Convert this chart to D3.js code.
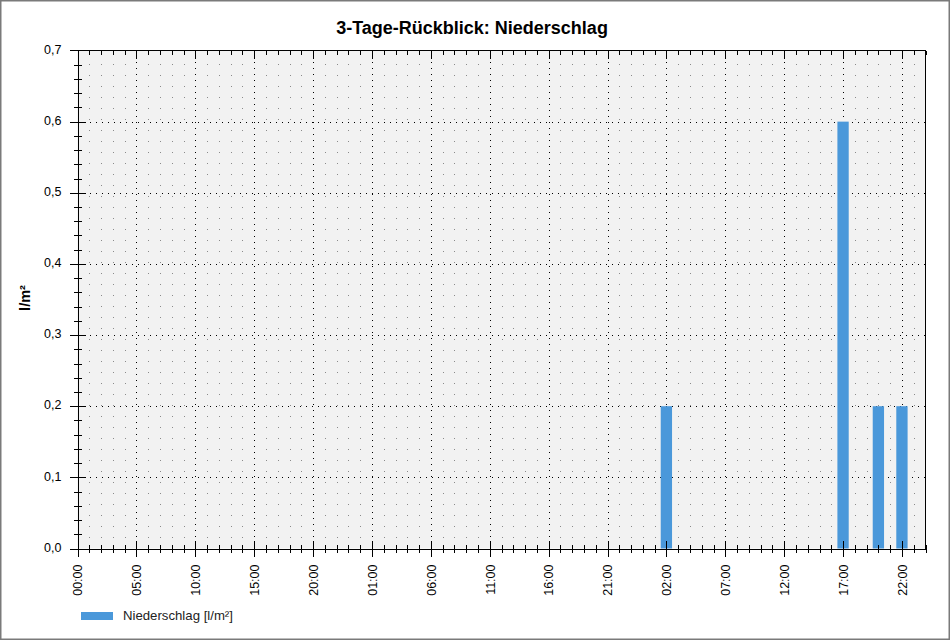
<!DOCTYPE html>
<html>
<head>
<meta charset="utf-8">
<script src="https://cdn.jsdelivr.net/npm/d3@7"></script>
<style>
  html, body { margin: 0; padding: 0; background: #fff; }
  svg { display: block; font-family: "Liberation Sans", Arial, sans-serif; }
</style>
</head>
<body>
<svg id="chart" width="950" height="640"></svg>
<script>
// ---- data ----
const chartTitle = "3-Tage-Rückblick: Niederschlag";
const yLabel = "l/m²";
const seriesName = "Niederschlag [l/m²]";
const xTickLabels = ["00:00","05:00","10:00","15:00","20:00","01:00","06:00","11:00","16:00","21:00","02:00","07:00","12:00","17:00","22:00"];
const xTickHours = [0,5,10,15,20,25,30,35,40,45,50,55,60,65,70];
const totalHours = 72;
// hours since start of the 3-day window with precipitation, and amounts
const rainHours = [50, 65, 68, 70];
const rainValues = [0.2, 0.6, 0.2, 0.2];
const yTickValues = [0, 0.1, 0.2, 0.3, 0.4, 0.5, 0.6, 0.7];
const yMax = 0.7;

// ---- layout ----
const svg = d3.select("#chart");
const L = 77.5, R = 925.5, T = 50.5, B = 548.5;
const x = d3.scaleLinear().domain([0, totalHours]).range([L, R]);
const y = d3.scaleLinear().domain([0, yMax]).range([B, T]);
const barColor = "#4a98da";

// outer border
svg.append("rect").attr("x", 0.75).attr("y", 0.75).attr("width", 948.5).attr("height", 638.5)
  .attr("fill", "#fff").attr("stroke", "#7a7a7a").attr("stroke-width", 1.5);

// title
svg.append("text").attr("x", 472).attr("y", 34).attr("text-anchor", "middle")
  .attr("font-size", 18).attr("font-weight", "bold").attr("fill", "#000").text(chartTitle);

// plot background
svg.append("rect").attr("x", L).attr("y", T).attr("width", R - L).attr("height", B - T).attr("fill", "#f2f2f2");

const hoursAll = d3.range(0, totalHours + 1);
const majorSet = new Set(xTickHours);

// minor vertical grid (every hour)
svg.append("g").selectAll("line").data(hoursAll.filter(h => !majorSet.has(h) && h > 0 && h < totalHours))
  .join("line")
  .attr("x1", d => Math.round(x(d)) + 0.5).attr("x2", d => Math.round(x(d)) + 0.5)
  .attr("y1", B).attr("y2", T)
  .attr("stroke", "#8a8a8a").attr("stroke-width", 1).attr("stroke-dasharray", "1,10")
  .attr("shape-rendering", "crispEdges");

// major vertical grid
svg.append("g").selectAll("line").data(xTickHours.filter(h => h > 0))
  .join("line")
  .attr("x1", d => Math.round(x(d)) + 0.5).attr("x2", d => Math.round(x(d)) + 0.5)
  .attr("y1", B).attr("y2", T)
  .attr("stroke", "#000").attr("stroke-width", 1).attr("stroke-dasharray", "1,5")
  .attr("shape-rendering", "crispEdges");

// major horizontal grid
svg.append("g").selectAll("line").data(yTickValues.filter(v => v > 0 && v < yMax))
  .join("line")
  .attr("x1", L).attr("x2", R)
  .attr("y1", d => Math.round(y(d)) + 0.5).attr("y2", d => Math.round(y(d)) + 0.5)
  .attr("stroke", "#000").attr("stroke-width", 1).attr("stroke-dasharray", "1,5")
  .attr("shape-rendering", "crispEdges");

// bars
svg.append("g").selectAll("rect").data(rainHours.map((h, i) => ({h, v: rainValues[i]})))
  .join("rect")
  .attr("x", d => x(d.h - 0.48)).attr("width", d => x(d.h + 0.48) - x(d.h - 0.48))
  .attr("y", d => y(d.v)).attr("height", d => y(0) - y(d.v))
  .attr("fill", barColor);

// frame: top and right
svg.append("line").attr("x1", L).attr("x2", R).attr("y1", T).attr("y2", T)
  .attr("stroke", "#000").attr("shape-rendering", "crispEdges");
svg.append("line").attr("x1", R).attr("x2", R).attr("y1", T).attr("y2", B)
  .attr("stroke", "#000").attr("shape-rendering", "crispEdges");

// top ticks (pointing inward)
svg.append("g").selectAll("line").data(hoursAll)
  .join("line")
  .attr("x1", d => Math.round(x(d)) + 0.5).attr("x2", d => Math.round(x(d)) + 0.5)
  .attr("y1", T).attr("y2", d => T + (majorSet.has(d) ? 8 : 4))
  .attr("stroke", "#000").attr("shape-rendering", "crispEdges");

// x axis
const xAxis = d3.axisBottom(x).tickValues(xTickHours)
  .tickFormat((d, i) => xTickLabels[i]).tickSize(0).tickPadding(0);
const gx = svg.append("g").attr("transform", `translate(0,${B})`).call(xAxis);
gx.select(".domain").attr("stroke", "#000").attr("shape-rendering", "crispEdges");
gx.selectAll(".tick text")
  .attr("font-family", "Liberation Sans, Arial, sans-serif")
  .attr("font-size", 12.5).attr("fill", "#000")
  .attr("transform", "rotate(-90)")
  .attr("text-anchor", "end")
  .attr("x", -16).attr("y", 0).attr("dy", "0.35em");
// x ticks
svg.append("g").selectAll("line").data(hoursAll)
  .join("line")
  .attr("x1", d => Math.round(x(d)) + 0.5).attr("x2", d => Math.round(x(d)) + 0.5)
  .attr("y1", d => B - (majorSet.has(d) ? 8 : 4)).attr("y2", d => B + (majorSet.has(d) ? 8 : 4))
  .attr("stroke", "#000").attr("stroke-width", 1.2).attr("shape-rendering", "crispEdges");

// y axis
const yAxis = d3.axisLeft(y).tickValues(yTickValues)
  .tickFormat(d => d3.format(".1f")(d).replace(".", ",")).tickSize(0).tickPadding(0);
const gy = svg.append("g").attr("transform", `translate(${L},0)`).call(yAxis);
gy.select(".domain").attr("stroke", "#000").attr("shape-rendering", "crispEdges");
gy.selectAll(".tick text")
  .attr("font-family", "Liberation Sans, Arial, sans-serif")
  .attr("font-size", 12.5).attr("fill", "#000").attr("x", -16).attr("dy", "0.22em");
// y ticks
const yMinor = d3.range(0, 36).map(i => i * 0.02);
svg.append("g").selectAll("line").data(yMinor)
  .join("line")
  .attr("y1", d => Math.round(y(d)) + 0.5).attr("y2", d => Math.round(y(d)) + 0.5)
  .attr("x1", (d, i) => L - (i % 5 === 0 ? 8 : 4)).attr("x2", (d, i) => L + (i % 5 === 0 ? 8 : 4))
  .attr("stroke", "#000").attr("stroke-width", 1.2).attr("shape-rendering", "crispEdges");

// y label
svg.append("text").attr("transform", "translate(30,298) rotate(-90)")
  .attr("text-anchor", "middle").attr("font-size", 14.5).attr("font-weight", "bold")
  .attr("fill", "#000").text(yLabel);

// legend
svg.append("rect").attr("x", 81).attr("y", 612).attr("width", 32).attr("height", 8).attr("fill", barColor);
svg.append("text").attr("x", 123).attr("y", 620).attr("font-size", 13.2).attr("fill", "#222").text(seriesName);
</script>
</body>
</html>
